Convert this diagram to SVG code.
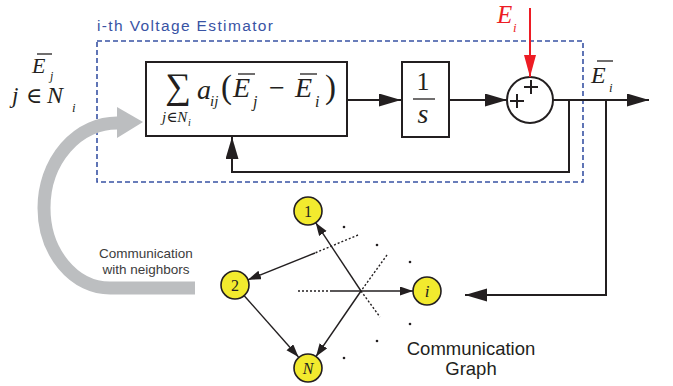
<svg xmlns="http://www.w3.org/2000/svg" width="673" height="386" viewBox="0 0 673 386">
<style>
.ln{fill:none;stroke:#231f20;stroke-width:2}
.gl{fill:none;stroke:#231f20;stroke-width:1.4}
.dt{fill:none;stroke:#231f20;stroke-width:1.4;stroke-dasharray:2,2}
.node{fill:#f2ea2e;stroke:#231f20;stroke-width:1.6}
.m{font-family:"Liberation Serif","DejaVu Serif",serif;font-style:italic;fill:#231f20}
.r{font-family:"Liberation Serif","DejaVu Serif",serif;fill:#231f20}
.s{font-family:"Liberation Sans",Arial,sans-serif;fill:#231f20}
.red{fill:#ed1c24}
.bar{stroke:#231f20;stroke-width:1.3}
.dot{fill:#231f20}
</style>
<defs>
<marker id="ah" markerUnits="userSpaceOnUse" markerWidth="23" markerHeight="14" refX="22" refY="6.5" orient="auto"><path d="M0,0 L22,6.5 L0,13 z" fill="#231f20"/></marker>
<marker id="ahr" markerUnits="userSpaceOnUse" markerWidth="23" markerHeight="14" refX="22" refY="6" orient="auto"><path d="M0,0 L22,6 L0,12 z" fill="#ed1c24"/></marker>
<marker id="as" markerUnits="userSpaceOnUse" markerWidth="14" markerHeight="10" refX="13" refY="4.5" orient="auto"><path d="M0,0 L13,4.5 L0,9 z" fill="#231f20"/></marker>
</defs>

<g id="estimator-frame">
<rect x="97" y="41" width="486" height="141" fill="none" stroke="#3953a4" stroke-width="1.6" stroke-dasharray="5,3"/>
<text x="97" y="31" font-family="'Liberation Sans',Arial,sans-serif" font-size="15.5" fill="#3953a4" textLength="176" lengthAdjust="spacing">i-th Voltage Estimator</text>
</g>

<g id="comm-arrow">
<path d="M195,288 H110 A66,80 0 0 1 44,208 A73,85 0 0 1 118,123" fill="none" stroke="#bcbec0" stroke-width="13"/>
<polygon points="117,107 143,122 117,138" fill="#bcbec0"/>
<text class="s" x="146" y="258" font-size="13.5" text-anchor="middle" style="fill:#3c3c3c">Communication</text>
<text class="s" x="146" y="274" font-size="13.5" text-anchor="middle" style="fill:#3c3c3c">with neighbors</text>
</g>

<g id="input-label">
<text class="m" x="32" y="73" font-size="22">E</text>
<line class="bar" x1="37" y1="54" x2="52" y2="54"/>
<text class="m" x="50" y="80" font-size="12">j</text>
<text class="m" x="12" y="103" font-size="23">j</text>
<text class="r" x="26" y="103" font-size="22">∈</text>
<text class="m" x="47" y="103" font-size="24">N</text>
<text class="m" x="72" y="112" font-size="13">i</text>
</g>

<g id="consensus-block">
<rect x="146" y="62" width="201" height="74" fill="#fff" stroke="#231f20" stroke-width="2"/>
<text class="r" x="178" y="98" font-size="36" text-anchor="middle">∑</text>
<text class="m" x="162" y="122" font-size="15">j∈N</text>
<text class="m" x="188" y="126" font-size="10">i</text>
<text class="m" x="197" y="99" font-size="28">a</text>
<text class="m" x="210" y="106" font-size="15">ij</text>
<text class="r" x="221" y="98" font-size="33">(</text>
<text class="m" x="233" y="97" font-size="28">E</text>
<line class="bar" x1="238" y1="74" x2="255" y2="74"/>
<text class="m" x="253" y="107" font-size="16">j</text>
<text class="r" x="269" y="97" font-size="28">−</text>
<text class="m" x="295" y="97" font-size="28">E</text>
<line class="bar" x1="300" y1="74" x2="317" y2="74"/>
<text class="m" x="315" y="107" font-size="16">i</text>
<text class="r" x="325" y="98" font-size="33">)</text>
</g>

<g id="integrator">
<rect x="402" y="62" width="47" height="75" fill="#fff" stroke="#231f20" stroke-width="2"/>
<text class="r" x="423" y="90" font-size="26" text-anchor="middle">1</text>
<line class="bar" x1="413" y1="99" x2="435" y2="99"/>
<text class="m" x="423" y="123" font-size="28" text-anchor="middle">s</text>
</g>

<g id="summer">
<circle cx="530" cy="100" r="23" fill="#fff" stroke="#231f20" stroke-width="2"/>
<path d="M510,101 H524 M517,94 V108 M524,87 H538 M531,80 V94" stroke="#231f20" stroke-width="2" fill="none"/>
</g>

<g id="ei-input">
<text class="m red" x="497" y="23" font-size="25">E</text>
<text class="m red" x="513" y="32" font-size="13">i</text>
</g>

<g id="output-label">
<text class="m" x="591" y="83" font-size="24">E</text>
<line class="bar" x1="597" y1="61" x2="613" y2="61"/>
<text class="m" x="609" y="92" font-size="13">i</text>
</g>

<g id="node-1"><circle class="node" cx="308" cy="211" r="14"/><text class="r" x="308" y="217" font-size="16" text-anchor="middle">1</text></g>
<g id="node-2"><circle class="node" cx="235" cy="285" r="14"/><text class="r" x="235" y="291" font-size="16" text-anchor="middle">2</text></g>
<g id="node-N"><circle class="node" cx="308" cy="368" r="14"/><text class="m" x="308" y="374" font-size="16" text-anchor="middle">N</text></g>
<g id="node-i"><circle class="node" cx="427" cy="291" r="14"/><text class="m" x="427" y="297" font-size="17" text-anchor="middle">i</text></g>

<g id="graph-label">
<text class="s" x="471" y="355" font-size="18.5" text-anchor="middle">Communication</text>
<text class="s" x="471" y="375" font-size="18.5" text-anchor="middle">Graph</text>
</g>

<g id="connectors">
<path class="ln" d="M347,100 H401" marker-end="url(#ah)"/>
<path class="ln" d="M449,100 H507" marker-end="url(#ah)"/>
<path class="ln" d="M553,100 H649" marker-end="url(#ah)"/>
<path class="ln" d="M569,100 V172 H232 V137" marker-end="url(#ah)"/>
<path class="ln" d="M606,100 V295 H465" marker-end="url(#ah)"/>
<path d="M530,8 V77" fill="none" stroke="#ed1c24" stroke-width="2" marker-end="url(#ahr)"/>

<path class="gl" d="M244,295.5 L298.5,357" marker-end="url(#as)"/>
<path class="gl" d="M361,291 L315.7,222.7" marker-end="url(#as)"/>
<path class="dt" d="M361,291 L380,317"/>
<path class="gl" d="M361,291 L316,356.5" marker-end="url(#as)"/>
<path class="dt" d="M387,255 L361,291"/>
<path class="gl" d="M315,253 L248,279.8" marker-end="url(#as)"/>
<path class="dt" d="M358,235 L315,253"/>
<path class="dt" d="M298,291 H332"/>
<path class="gl" d="M332,291 H413" marker-end="url(#as)"/>
<circle class="dot" cx="344" cy="227" r="1.3"/>
<circle class="dot" cx="377" cy="245" r="1.3"/>
<circle class="dot" cx="410" cy="262" r="1.3"/>
<circle class="dot" cx="410" cy="324" r="1.3"/>
<circle class="dot" cx="377" cy="341" r="1.3"/>
<circle class="dot" cx="344" cy="358" r="1.3"/>
</g>
</svg>
